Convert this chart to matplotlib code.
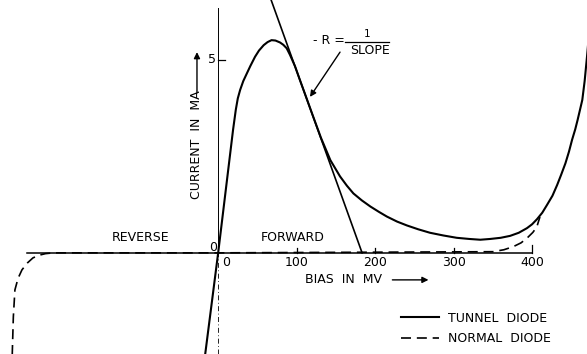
import matplotlib
matplotlib.use("Agg")
import matplotlib.pyplot as plt

# bias (mV) / current (mA)
tunnel_v = [-17, 0, 19, 22.5, 25, 28, 32, 36.6, 41, 47, 52, 58, 63, 68, 73,
            78.8, 83, 87.3, 91.5, 98, 104.3, 112, 120, 131, 143, 155.3,
            164, 172.3, 183, 194, 205, 215, 228, 240.5, 255, 270, 287, 304,
            320, 334, 346.6, 360, 372, 383, 393.5, 400, 406.2, 413, 419, 426,
            432, 437, 442.5, 447, 451, 455, 458, 461, 464, 467, 470, 474]
tunnel_i = [-2.7, 0, 3.19, 3.71, 4.0, 4.22, 4.45, 4.65, 4.84, 5.08, 5.24,
            5.38, 5.46, 5.51, 5.5, 5.45, 5.39, 5.3, 5.13, 4.83, 4.47, 4.04,
            3.59, 2.98, 2.4, 1.98, 1.74, 1.54, 1.36, 1.2, 1.06, 0.94, 0.81,
            0.71, 0.61, 0.52, 0.45, 0.39, 0.36, 0.34, 0.36, 0.39, 0.44, 0.52,
            0.64, 0.74, 0.87, 1.04, 1.24, 1.48, 1.76, 2.02, 2.32, 2.62, 2.93,
            3.2, 3.44, 3.7, 3.96, 4.45, 5.08, 6.0]

normal_v = [-262.5, -261, -259, -255, -250, -243, -236, -228, -220, -210, 0,
            350, 364, 376, 386, 394, 401, 406, 410]
normal_i = [-2.7, -1.66, -0.96, -0.66, -0.44, -0.26, -0.13, -0.06, -0.02, 0,
            0, 0.03, 0.08, 0.16, 0.26, 0.39, 0.53, 0.67, 0.93]

# negative resistance tangent line
slope_v = [67.5, 183.4]
slope_i = [6.55, 0]

x_ticks = [100, 200, 300, 400]
x_labels = ["100", "200", "300", "400"]


def main():
    fig = plt.figure(figsize=(5.87, 3.54), dpi=100)
    ax = fig.add_axes([0, 0, 1, 1])
    ax.set_xlim(-278, 470)
    ax.set_ylim(-2.62, 6.55)
    ax.axis("off")

    fs = 9

    # axes drawn by hand, like the original figure
    ax.plot([-243, 400], [0, 0], color="black", lw=1.1)
    ax.plot([0, 0], [0, 6.34], color="black", lw=0.7)
    ax.plot([0, 0], [-2.62, 0], color="black", lw=0.6, ls=(0, (6, 3, 1, 3)))
    ax.plot([0, 9], [5, 5], color="black", lw=0.9)
    for t, lab in zip(x_ticks, x_labels):
        h = 0.2 if t == 400 else 0.13
        ax.plot([t, t], [0, h], color="black", lw=0.9)
        ax.text(t, -0.26, lab, fontsize=fs, ha="center", va="center")
    ax.text(10, -0.24, "0", fontsize=fs, ha="center", va="center")
    ax.text(-6.6, 0.15, "0", fontsize=fs, ha="center", va="center")
    ax.text(-7.7, 5.0, "5", fontsize=fs, ha="center", va="center")

    # curves
    ax.plot(tunnel_v, tunnel_i, color="black", lw=1.5, label="TUNNEL  DIODE",
            solid_joinstyle="round")
    ax.plot(normal_v, normal_i, color="black", lw=1.2, dashes=(6, 3.5),
            label="NORMAL  DIODE")
    ax.plot(slope_v, slope_i, color="black", lw=1.2)

    # labels
    ax.text(-98.3, 0.385, "REVERSE", fontsize=fs, ha="center", va="center")
    ax.text(94.7, 0.385, "FORWARD", fontsize=fs, ha="center", va="center")
    ax.text(159.7, -0.7, "BIAS  IN  MV", fontsize=fs, ha="center",
            va="center")
    ax.annotate("", xy=(268, -0.7), xytext=(222, -0.7),
                arrowprops=dict(arrowstyle="-|>", color="black", lw=1.0,
                                mutation_scale=9, shrinkA=0, shrinkB=0))
    ax.text(-27, 2.79, "CURRENT  IN  MA", fontsize=fs, ha="center",
            va="center", rotation=90)
    ax.annotate("", xy=(-27, 5.2), xytext=(-27, 4.15),
                arrowprops=dict(arrowstyle="-|>", color="black", lw=1.0,
                                mutation_scale=9, shrinkA=0, shrinkB=0))

    # -R = 1/SLOPE
    ax.text(140.8, 5.51, "- R =", fontsize=fs, ha="center", va="center")
    ax.text(190, 5.66, "1", fontsize=fs - 1.5, ha="center", va="center")
    ax.plot([162, 218], [5.46, 5.46], color="black", lw=0.9)
    ax.text(193.5, 5.23, "SLOPE", fontsize=fs, ha="center", va="center")
    ax.annotate("", xy=(117, 4.04), xytext=(155.3, 5.2),
                arrowprops=dict(arrowstyle="-|>", color="black", lw=1.0,
                                mutation_scale=9, shrinkA=0, shrinkB=0))

    ax.legend(loc="upper left", bbox_to_anchor=(0.673, 0.137),
              frameon=False, fontsize=fs, borderpad=0, handlelength=3.0,
              handletextpad=0.76, labelspacing=0.6)

    fig.savefig("out.png", dpi=100)


if __name__ == "__main__":
    main()
